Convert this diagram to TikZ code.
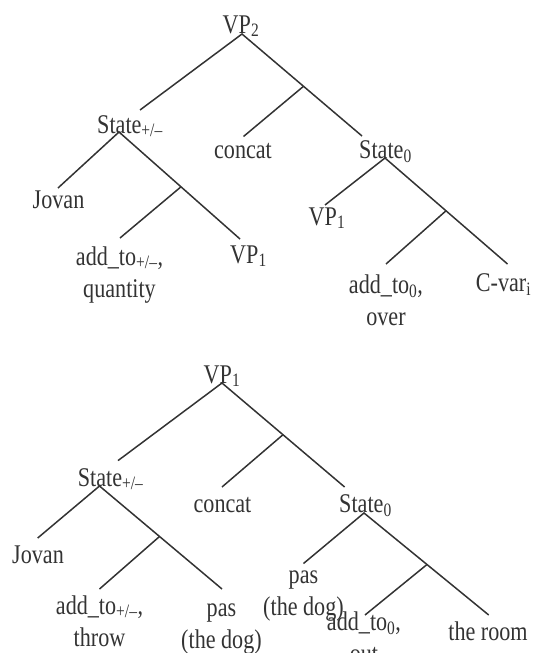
\documentclass[tikz,border=0pt]{standalone}
\usepackage{fontspec}
\setmainfont{Liberation Serif}[FakeStretch=0.82]
\tikzset{
  word/.style={
    anchor=base, inner sep=0pt, align=center, text=black!80,
    font=\fontsize{27}{32}\selectfont
  },
  branch/.style={
    line width=1.5pt, draw=black!80
  }
}

\begin{document}
\begin{tikzpicture}[x=1pt, y=-1pt]
    \useasboundingbox (0,0) rectangle (537,653);

    % Upper tree: words (two-line words sit on their last line)
    \node[word] (vptwo) at (241,33) {VP\textsubscript{2}};
    \node[word] (stpm) at (130,133) {State\textsubscript{+/--}};
    \node[word] (concat) at (243,158) {concat};
    \node[word] (stzero) at (385.5,158) {State\textsubscript{0}};
    \node[word] (jovan) at (58.5,208) {Jovan};
    \node[word] (addpm) at (119.5,297) {add\_to\textsubscript{+/--},\\quantity};
    \node[word] (vpone) at (248.5,263) {VP\textsubscript{1}};
    \node[word] (vponeb) at (327,225) {VP\textsubscript{1}};
    \node[word] (addzero) at (386,325) {add\_to\textsubscript{0},\\over};
    \node[word] (cvar) at (503.5,291.5) {C-var\textsubscript{i}};

    % Upper tree: branch points and line ends
    \coordinate (r1) at (242,34);
    \coordinate (r1l) at (140,110);
    \coordinate (r1r) at (362,136);
    \coordinate (j1) at (303.5,86.3);
    \coordinate (j1l) at (243.5,136.5);
    \coordinate (m1) at (119,132);
    \coordinate (m1l) at (58,188);
    \coordinate (m1r) at (240,239);
    \coordinate (j2) at (181,186.8);
    \coordinate (j2l) at (120,238);
    \coordinate (m2) at (385,158);
    \coordinate (m2l) at (325,205);
    \coordinate (m2r) at (507.5,264);
    \coordinate (j3) at (446,210.8);
    \coordinate (j3l) at (386,264);

    \draw[branch] (r1l) -- (r1) -- (r1r);
    \draw[branch] (j1) -- (j1l);
    \draw[branch] (m1l) -- (m1) -- (m1r);
    \draw[branch] (j2) -- (j2l);
    \draw[branch] (m2l) -- (m2) -- (m2r);
    \draw[branch] (j3) -- (j3l);

    % Lower tree: words
    \node[word] (vptop) at (222,383) {VP\textsubscript{1}};
    \node[word] (stpmb) at (110.7,486) {State\textsubscript{+/--}};
    \node[word] (concatb) at (222.5,512) {concat};
    \node[word] (stzerob) at (365.5,512) {State\textsubscript{0}};
    \node[word] (jovanb) at (38,563.5) {Jovan};
    \node[word] (addthrow) at (99.5,646) {add\_to\textsubscript{+/--},\\throw};
    \node[word] (dogr) at (221.5,648) {pas\\(the dog)};
    \node[word] (dogl) at (303.5,615) {pas\\(the dog)};
    \node[word] (addout) at (364,662) {add\_to\textsubscript{0},\\out};
    \node[word] (room) at (488,640.7) {the room};

    % Lower tree: branch points and line ends
    \coordinate (r2) at (222,383);
    \coordinate (r2l) at (118,460.6);
    \coordinate (r2r) at (344.6,487);
    \coordinate (j4) at (283,434.7);
    \coordinate (j4l) at (222,487);
    \coordinate (m3) at (99.5,486);
    \coordinate (m3l) at (37.7,538);
    \coordinate (m3r) at (222,589);
    \coordinate (j5) at (159.5,536.5);
    \coordinate (j5l) at (99.5,589);
    \coordinate (m4) at (364,513);
    \coordinate (m4l) at (303.5,563.5);
    \coordinate (m4r) at (488.7,615);
    \coordinate (j6) at (427,564.5);
    \coordinate (j6l) at (365,615);

    \draw[branch] (r2l) -- (r2) -- (r2r);
    \draw[branch] (j4) -- (j4l);
    \draw[branch] (m3l) -- (m3) -- (m3r);
    \draw[branch] (j5) -- (j5l);
    \draw[branch] (m4l) -- (m4) -- (m4r);
    \draw[branch] (j6) -- (j6l);
\end{tikzpicture}
\end{document}
